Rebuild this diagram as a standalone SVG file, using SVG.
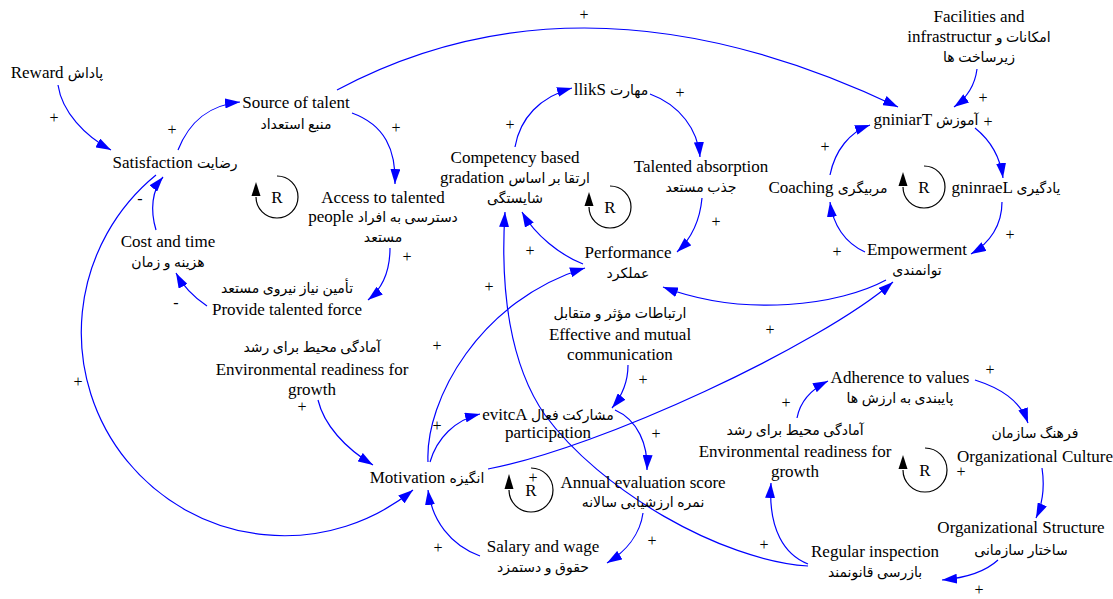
<svg xmlns="http://www.w3.org/2000/svg" width="1113" height="599" viewBox="0 0 1113 599">
<style>
text{font-family:"Liberation Serif","DejaVu Sans",serif;font-size:17px;fill:#000;text-anchor:middle}
.fa{font-size:14px}
.pol text{font-size:16px}
.c path{fill:none;stroke:#0000ff;stroke-width:1.2;marker-end:url(#ah)}
.loop path{fill:none;stroke:#000;stroke-width:1.2}
.loop polygon{fill:#000}
</style>
<defs>
<marker id="ah" markerUnits="userSpaceOnUse" markerWidth="15" markerHeight="10" refX="15" refY="5" orient="auto" viewBox="0 0 15 10"><path d="M0,0 L15,5 L0,10 z" fill="#0000ff"/></marker>
</defs>
<rect width="1113" height="599" fill="#fff"/>

<g id="connectors" class="c">
<path d="M58,85 C62,112 85,136 111,150"/>
<path d="M178,150 C190,120 210,105 240,102"/>
<path d="M352,113 C385,125 396,150 395,184"/>
<path d="M337,90 Q585,-42 898,107"/>
<path d="M390,248 C390,270 383,288 368,300"/>
<path d="M207,306 C195,298 184,288 176,273"/>
<path d="M156,230 C150,210 152,190 163,177"/>
<path d="M156,175 A203,203 0 0 0 413,490"/>
<path d="M318,400 C324,425 345,448 373,465"/>
<path d="M430,462 C437,438 455,420 480,414"/>
<path d="M428,462 C425,400 480,300 585,268"/>
<path d="M808,566 C720,560 600,490 545,415 C510,365 500,290 505,212"/>
<path d="M515,147 C520,118 540,97 572,88"/>
<path d="M650,94 C680,105 698,130 700,157"/>
<path d="M702,198 C700,220 692,238 677,252"/>
<path d="M583,264 C560,255 535,235 522,212"/>
<path d="M628,365 C628,382 622,396 612,408"/>
<path d="M615,410 C638,420 648,445 647,470"/>
<path d="M643,513 C640,535 625,552 607,563"/>
<path d="M480,556 C450,545 432,520 428,490"/>
<path d="M488,469 C600,448 820,345 893,282"/>
<path d="M886,280 C840,305 745,318 663,287"/>
<path d="M1002,202 C1002,225 990,243 971,254"/>
<path d="M865,252 C845,243 833,225 830,202"/>
<path d="M830,175 C835,150 850,132 870,125"/>
<path d="M977,69 C975,85 968,97 954,107"/>
<path d="M975,128 C990,140 1000,155 1003,178"/>
<path d="M808,564 C785,555 768,530 771,483"/>
<path d="M797,418 C800,402 810,390 828,381"/>
<path d="M975,380 C1000,388 1020,400 1028,423"/>
<path d="M1042,468 C1045,488 1042,505 1036,518"/>
<path d="M998,560 C985,572 965,578 942,580"/>
</g>

<g id="polarities" class="pol">
<text x="584" y="20">+</text>
<text x="54" y="123">+</text>
<text x="172" y="135">+</text>
<text x="396" y="133">+</text>
<text x="140" y="204">-</text>
<text x="78" y="387">+</text>
<text x="176" y="308">-</text>
<text x="407" y="262">+</text>
<text x="302" y="412">+</text>
<text x="510" y="130">+</text>
<text x="680" y="98">+</text>
<text x="716" y="227">+</text>
<text x="530" y="256">+</text>
<text x="489" y="292">+</text>
<text x="437" y="351">+</text>
<text x="437" y="431">+</text>
<text x="533" y="483">+</text>
<text x="656" y="439">+</text>
<text x="652" y="546">+</text>
<text x="438" y="553">+</text>
<text x="643" y="385">+</text>
<text x="770" y="335">+</text>
<text x="837" y="257">+</text>
<text x="1010" y="240">+</text>
<text x="825" y="152">+</text>
<text x="983" y="103">+</text>
<text x="988" y="127">+</text>
<text x="990" y="375">+</text>
<text x="786" y="408">+</text>
<text x="961" y="477">+</text>
<text x="979" y="595">+</text>
<text x="764" y="550">+</text>
</g>

<g id="loops" class="loop">
<g id="loop1"><path d="M277,176 A21,21 0 1 1 256,197"/><polygon points="251.5,196 260.5,196 256,182"/><text x="277" y="203">R</text></g>
<g id="loop2"><path d="M610,186 A21,21 0 1 1 589,207"/><polygon points="584.5,206 593.5,206 589,192"/><text x="610" y="213">R</text></g>
<g id="loop3"><path d="M924,166 A21,21 0 1 1 903,187"/><polygon points="898.5,186 907.5,186 903,172"/><text x="924" y="193">R</text></g>
<g id="loop4"><path d="M531,468 A22,22 0 1 1 509,490"/><polygon points="504.5,489 513.5,489 509,474"/><text x="531" y="496">R</text></g>
<g id="loop5"><path d="M925,448 A22,22 0 1 1 903,470"/><polygon points="898.5,469 907.5,469 903,455"/><text x="925" y="476">R</text></g>
</g>

<g id="reward"><text x="57" y="78">Reward <tspan class="fa">پاداش</tspan></text></g>
<g id="satisfaction"><text x="175" y="168">Satisfaction <tspan class="fa">رضایت</tspan></text></g>
<g id="source-of-talent"><text><tspan x="296" y="108">Source of talent</tspan><tspan x="296" y="129" class="fa">منبع استعداد</tspan></text></g>
<g id="access"><text><tspan x="383" y="203">Access to talented</tspan><tspan x="383" y="222">people <tspan class="fa">دسترسی به افراد</tspan></tspan><tspan x="383" y="242" class="fa">مستعد</tspan></text></g>
<g id="cost-time"><text><tspan x="168" y="247">Cost and time</tspan><tspan x="168" y="267" class="fa">هزینه و زمان</tspan></text></g>
<g id="provide-force"><text><tspan x="287" y="293" class="fa">تأمین نیاز نیروی مستعد</tspan><tspan x="287" y="315">Provide talented force</tspan></text></g>
<g id="env-readiness-1"><text><tspan x="312" y="352" class="fa">آمادگی محیط برای رشد</tspan><tspan x="312" y="375">Environmental readiness for</tspan><tspan x="312" y="395">growth</tspan></text></g>
<g id="motivation"><text x="427" y="483">Motivation <tspan class="fa">انگیزه</tspan></text></g>
<g id="active-participation"><text><tspan x="548" y="420">evitcA <tspan class="fa">مشارکت فعال</tspan></tspan><tspan x="548" y="438">participation</tspan></text></g>
<g id="annual-evaluation"><text><tspan x="643" y="488">Annual evaluation score</tspan><tspan x="643" y="507" class="fa">نمره ارزشیابی سالانه</tspan></text></g>
<g id="salary"><text><tspan x="543" y="552">Salary and wage</tspan><tspan x="543" y="572" class="fa">حقوق و دستمزد</tspan></text></g>
<g id="communication"><text><tspan x="620" y="318" class="fa">ارتباطات مؤثر و متقابل</tspan><tspan x="620" y="340">Effective and mutual</tspan><tspan x="620" y="360">communication</tspan></text></g>
<g id="performance"><text><tspan x="628" y="258">Performance</tspan><tspan x="628" y="278" class="fa">عملکرد</tspan></text></g>
<g id="competency"><text><tspan x="515" y="163">Competency based</tspan><tspan x="515" y="183">gradation <tspan class="fa">ارتقا بر اساس</tspan></tspan><tspan x="515" y="203" class="fa">شایستگی</tspan></text></g>
<g id="skill"><text x="611" y="95">llikS <tspan class="fa">مهارت</tspan></text></g>
<g id="talented-absorption"><text><tspan x="701" y="172">Talented absorption</tspan><tspan x="701" y="192" class="fa">جذب مستعد</tspan></text></g>
<g id="facilities"><text><tspan x="979" y="22">Facilities and</tspan><tspan x="979" y="42">infrastructur <tspan class="fa">امکانات و</tspan></tspan><tspan x="979" y="62" class="fa">زیرساخت ها</tspan></text></g>
<g id="training"><text x="926" y="125">gniniarT <tspan class="fa">آموزش</tspan></text></g>
<g id="coaching"><text x="828" y="193">Coaching <tspan class="fa">مربیگری</tspan></text></g>
<g id="learning"><text x="1006" y="193">gninraeL <tspan class="fa">یادگیری</tspan></text></g>
<g id="empowerment"><text><tspan x="917" y="255">Empowerment</tspan><tspan x="917" y="275" class="fa">توانمندی</tspan></text></g>
<g id="adherence"><text><tspan x="900" y="383">Adherence to values</tspan><tspan x="900" y="403" class="fa">پایبندی به ارزش ها</tspan></text></g>
<g id="org-culture"><text><tspan x="1035" y="438" class="fa">فرهنگ سازمان</tspan><tspan x="1035" y="462">Organizational Culture</tspan></text></g>
<g id="org-structure"><text><tspan x="1021" y="533">Organizational Structure</tspan><tspan x="1021" y="555" class="fa">ساختار سازمانی</tspan></text></g>
<g id="regular-inspection"><text><tspan x="875" y="557">Regular inspection</tspan><tspan x="875" y="577" class="fa">بازرسی قانونمند</tspan></text></g>
<g id="env-readiness-2"><text><tspan x="795" y="435" class="fa">آمادگی محیط برای رشد</tspan><tspan x="795" y="457">Environmental readiness for</tspan><tspan x="795" y="477">growth</tspan></text></g>
</svg>
